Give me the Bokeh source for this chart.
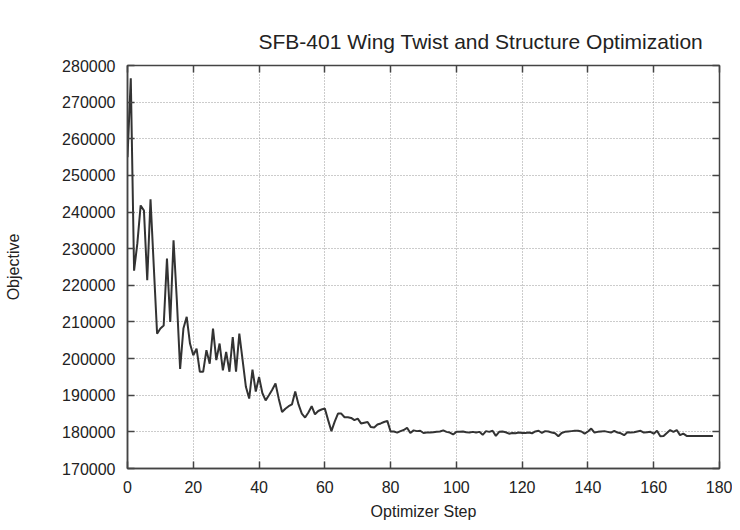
from bokeh.plotting import figure
from bokeh.models import (SingleIntervalTicker, LinearAxis, BasicTickFormatter, Range1d,
                          CustomLabelingPolicy)
from bokeh.embed import file_html
from bokeh.resources import INLINE

step = list(range(0, 179))
objective = [
    255000, 276500, 224000, 231500, 241800, 240400, 221400, 243500, 225000, 206800,
    208200, 209000, 227300, 210000, 232300, 216000, 197200, 208200, 211400, 204100,
    200900, 202700, 196400, 196400, 202300, 198600, 208200, 199600, 204100, 196800,
    201800, 196400, 205900, 196400, 206800, 199600, 192300, 189100, 197000, 191000,
    195000, 190600, 188600, 190000, 191500, 193200, 189000, 185400, 186300, 187000,
    187500, 191000, 187500, 185000, 183900, 185300, 187000, 184800, 185700, 186100,
    186400, 183200, 180200, 182800, 185000, 185000, 184000, 184000, 183800, 183200,
    183600, 182300, 182500, 182700, 181300, 181200, 182000, 182300, 182700, 183000,
    180100, 180100, 179800, 180200, 180500, 181100, 179700, 180400, 180200, 180300,
    179700, 179800, 179800, 179900, 180000, 180100, 180400, 180000, 179800, 179300,
    180000, 180000, 180100, 179900, 179800, 180000, 179800, 180000, 179200, 180200,
    180000, 180300, 178900, 180000, 180100, 179900, 179500, 179700, 179600, 179800,
    179700, 179700, 179800, 179600, 180100, 180300, 179700, 180200, 180100, 179800,
    179600, 178800, 179700, 180000, 180100, 180200, 180300, 180300, 180100, 179500,
    180100, 180900, 179800, 180000, 180100, 180200, 180000, 179800, 180300, 179800,
    179600, 179100, 179900, 179800, 179900, 180100, 180300, 179800, 179900, 180000,
    179500, 180300, 178800, 178900, 179700, 180500, 180000, 180500, 179100, 179500,
    178900, 178900, 178900, 178900, 178900, 178900, 178900, 178900, 178900,
]

title_text = "SFB-401 Wing Twist and Structure Optimization"
x_label = "Optimizer Step"
y_label = "Objective"

FONT = "Liberation Sans"
AX = "#444444"
TXT = "#222222"

p = figure(width=732, height=526, output_backend="svg", toolbar_location=None,
           x_range=Range1d(0, 180), y_range=Range1d(170000, 280000),
           min_border_left=127, min_border_right=13, min_border_top=65, min_border_bottom=58,
           x_axis_label=x_label, y_axis_label=y_label)

p.title.text = title_text
p.title.align = "left"
p.title.offset = 131
p.title.standoff = 25
p.title.text_font = FONT
p.title.text_font_size = "21px"
p.title.text_font_style = "normal"
p.title.text_color = TXT

p.background_fill_color = "white"
p.border_fill_color = "white"
p.outline_line_color = AX
p.outline_line_width = 1.5

xt = SingleIntervalTicker(interval=20, num_minor_ticks=0)
yt = SingleIntervalTicker(interval=10000, num_minor_ticks=0)

p.xaxis.ticker = xt
p.yaxis.ticker = yt
p.yaxis.formatter = BasicTickFormatter(use_scientific=False)

for ax in (p.xaxis[0], p.yaxis[0]):
    ax.major_tick_in = 7
    ax.major_tick_out = 0
    ax.minor_tick_line_color = None
    ax.axis_line_color = AX
    ax.axis_line_width = 1.5
    ax.major_tick_line_color = AX
    ax.major_tick_line_width = 1.5
    ax.major_label_text_font = FONT
    ax.major_label_text_font_size = "16px"
    ax.major_label_text_color = TXT
    ax.axis_label_text_font = FONT
    ax.axis_label_text_font_size = "16px"
    ax.axis_label_text_font_style = "normal"
    ax.axis_label_text_color = TXT

p.xaxis.major_label_standoff = 12
p.xaxis.axis_label_standoff = 7
p.yaxis.major_label_standoff = 12
p.yaxis.axis_label_standoff = 37

# mirrored ticks on the right and top, with no labels drawn
no_labels = "if (false) { yield 0 }"
ra = LinearAxis(ticker=SingleIntervalTicker(interval=10000, num_minor_ticks=0),
                major_label_policy=CustomLabelingPolicy(code=no_labels),
                major_label_text_font_size="0px", major_tick_in=7, major_tick_out=0,
                minor_tick_line_color=None, axis_line_color=AX, major_tick_line_color=AX,
                major_tick_line_width=1.5, major_label_standoff=0)
ta = LinearAxis(ticker=SingleIntervalTicker(interval=20, num_minor_ticks=0),
                major_label_policy=CustomLabelingPolicy(code=no_labels),
                major_label_text_font_size="0px", major_tick_in=7, major_tick_out=0,
                minor_tick_line_color=None, axis_line_color=AX, major_tick_line_color=AX,
                major_tick_line_width=1.5, major_label_standoff=0)
p.add_layout(ra, "right")
p.add_layout(ta, "above")

p.xgrid.ticker = xt
p.ygrid.ticker = yt
for g in (p.xgrid[0], p.ygrid[0]):
    g.grid_line_color = "#999999"
    g.grid_line_dash = "1 2"
    g.grid_line_width = 1

p.line(step, objective, line_color="#333333", line_width=2)

open("out.html", "w").write(file_html(p, INLINE))
